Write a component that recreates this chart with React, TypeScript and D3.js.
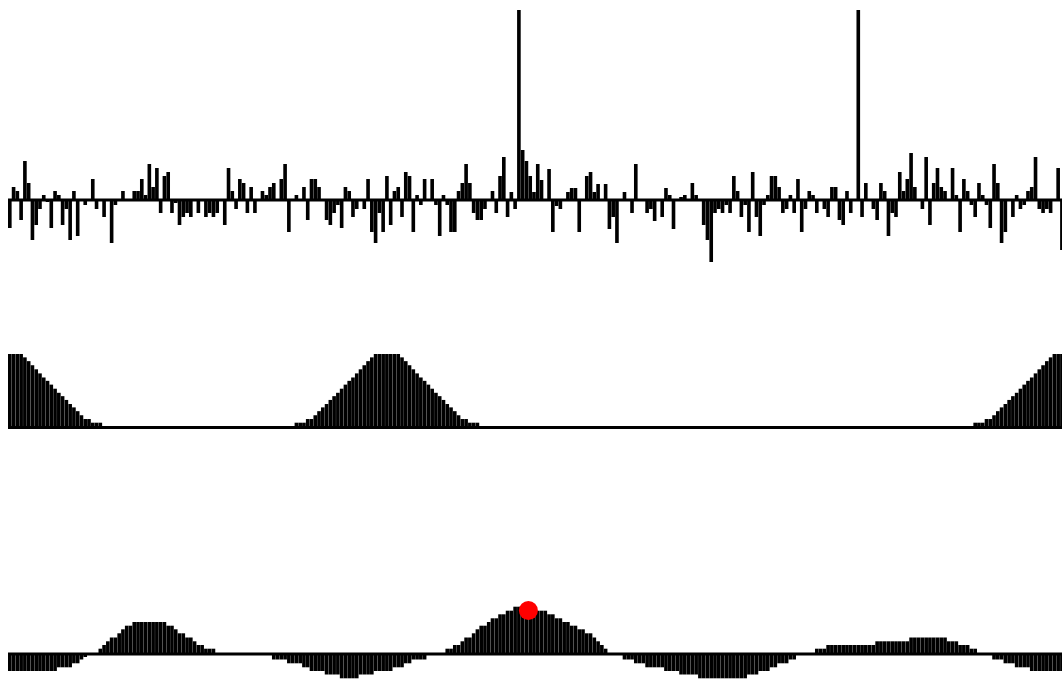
import React from "react";
import * as d3 from "d3";

const N = 280;

// top panel: noisy signal (values in panel units)
const signal = [
  -28, 13, 9, -20, 39, 17, -40, -25, -9, 5, -2, -28, 9, 5, -25, -9, -40, 9, -36, 0,
  -5, 0, 21, -9, 0, -17, 0, -43, -5, 0, 9, 0, 0, 9, 9, 21, 5, 36, 13, 32,
  -13, 24, 28, -13, -3, -25, -17, -13, -17, 0, -13, 0, -17, -13, -17, -13, 0, -25, 32, 9,
  -9, 21, 17, -13, 13, -13, 0, 9, 5, 13, 17, 0, 21, 36, -32, 0, 5, 0, 13, -20,
  21, 21, 13, 0, -20, -25, -13, -5, -28, 13, 9, -17, -9, 0, -9, 21, -32, -43, -13, -32,
  24, -25, 9, 13, -17, 28, 24, -32, 5, -5, 21, 0, 21, -5, -36, 5, -5, -32, -32, 9,
  17, 36, 17, -13, -20, -20, -9, 0, 9, -13, 24, 43, -17, 8, -9, 190, 50, 39, 24, 8,
  36, 20, 0, 31, -32, -6, -9, 0, 8, 12, 12, -32, 0, 24, 28, 8, 16, 0, 16, -29,
  -17, -43, 0, 8, 0, -13, 36, 0, 0, -13, -9, -21, 0, -17, 12, 5, -29, 0, 3, 5,
  0, 17, 5, 0, -25, -40, -62, -13, -9, -13, -5, -13, 24, 9, -17, -5, -32, 28, -17, -36,
  -5, 5, 24, 24, 13, -13, -9, 5, -13, 21, -32, -9, 9, 5, -13, 0, -9, -17, 13, 13,
  -20, -25, 9, -13, 0, 190, -17, 17, 0, -9, -20, 17, 9, -36, -13, -17, 28, 9, 21, 47,
  13, 0, -9, 43, -25, 17, 32, 13, 9, 0, 32, 5, -32, 21, 9, -5, -17, 17, 5, -5,
  -28, 36, 17, -43, -32, 0, -17, 5, -9, -5, 9, 13, 43, -9, -13, -9, -13, 0, 32, -50,
];

// middle panel: template of bumps
const template = [
  72, 72, 72, 72, 68.7, 65, 61, 57, 53, 49, 45.7, 42, 38, 34, 30.7, 27, 23, 19.7, 16, 12,
  8.3, 8.3, 4.7, 4.7, 4.7, 0, 0, 0, 0, 0, 0, 0, 0, 0, 0, 0, 0, 0, 0, 0,
  0, 0, 0, 0, 0, 0, 0, 0, 0, 0, 0, 0, 0, 0, 0, 0, 0, 0, 0, 0,
  0, 0, 0, 0, 0, 0, 0, 0, 0, 0, 0, 0, 0, 0, 0, 0, 4.7, 4.7, 4.7, 8.3,
  8.3, 12, 16, 19.7, 23, 27, 30.7, 34, 38, 42, 45.7, 49, 53, 57, 61, 65, 68.7, 72, 72, 72,
  72, 72, 72, 72, 68.7, 65, 61, 57, 53, 49, 45.7, 42, 38, 34, 30.7, 27, 23, 19.7, 16, 12,
  8.3, 8.3, 4.7, 4.7, 4.7, 0, 0, 0, 0, 0, 0, 0, 0, 0, 0, 0, 0, 0, 0, 0,
  0, 0, 0, 0, 0, 0, 0, 0, 0, 0, 0, 0, 0, 0, 0, 0, 0, 0, 0, 0,
  0, 0, 0, 0, 0, 0, 0, 0, 0, 0, 0, 0, 0, 0, 0, 0, 0, 0, 0, 0,
  0, 0, 0, 0, 0, 0, 0, 0, 0, 0, 0, 0, 0, 0, 0, 0, 0, 0, 0, 0,
  0, 0, 0, 0, 0, 0, 0, 0, 0, 0, 0, 0, 0, 0, 0, 0, 0, 0, 0, 0,
  0, 0, 0, 0, 0, 0, 0, 0, 0, 0, 0, 0, 0, 0, 0, 0, 0, 0, 0, 0,
  0, 0, 0, 0, 0, 0, 0, 0, 0, 0, 0, 0, 0, 0, 0, 0, 4.7, 4.7, 4.7, 8.3,
  8.3, 12, 16, 19.7, 23, 27, 30.7, 34, 38, 42, 45.7, 49, 53, 57, 61, 65, 68.7, 72, 72, 72,
];

// bottom panel: correlation result
const correlation = [
  -17, -17, -17, -17, -17, -17, -17, -17, -17, -17, -17, -17, -17, -13.3, -13.3, -13.3, -13.3, -9.3, -9.3, -5.5,
  -3, 0, 0, 0, 5.3, 9, 12.7, 16.5, 16.5, 20.7, 24.7, 28.3, 28.3, 32, 32, 32, 32, 32, 32, 32,
  32, 32, 28.3, 28.3, 24.7, 20.7, 20.7, 16.5, 16.5, 12.7, 9, 9, 5.3, 5.3, 5.3, 0, 0, 0, 0, 0,
  0, 0, 0, 0, 0, 0, 0, 0, 0, 0, -5.5, -5.5, -5.5, -5.5, -9.3, -9.3, -9.3, -9.3, -13.3, -13.3,
  -17, -17, -17, -17, -20.5, -20.5, -20.5, -20.5, -24.3, -24.3, -24.3, -24.3, -24.3, -20.5, -20.5, -20.5, -20.5, -17, -17, -17,
  -17, -17, -13.3, -13.3, -13.3, -9.3, -9.3, -5.5, -5.5, -5.5, -5.5, 0, 0, 0, 0, 0, 5.3, 5.3, 9, 9,
  12.7, 16.5, 16.5, 20.7, 24.7, 28.3, 28.3, 32, 35.7, 35.7, 39.7, 39.7, 43.3, 43.3, 47.3, 47.3, 47.3, 47.3, 47.3, 47.3,
  43.3, 43.3, 43.3, 39.7, 39.7, 35.7, 35.7, 32, 32, 28.3, 28.3, 24.7, 24.7, 20.7, 20.7, 16.5, 12.7, 9, 5.3, 0,
  0, 0, 0, -5.5, -5.5, -5.5, -9.3, -9.3, -9.3, -13.3, -13.3, -13.3, -13.3, -13.3, -17, -17, -17, -17, -20.5, -20.5,
  -20.5, -20.5, -20.5, -24.3, -24.3, -24.3, -24.3, -24.3, -24.3, -24.3, -24.3, -24.3, -24.3, -24.3, -24.3, -24.3, -20.5, -20.5, -20.5, -17,
  -17, -17, -13.3, -13.3, -9.3, -9.3, -9.3, -5.5, -5.5, 0, 0, 0, 0, 0, 5.3, 5.3, 5.3, 9, 9, 9,
  9, 9, 9, 9, 9, 9, 9, 9, 9, 9, 12.7, 12.7, 12.7, 12.7, 12.7, 12.7, 12.7, 12.7, 12.7, 16.5,
  16.5, 16.5, 16.5, 16.5, 16.5, 16.5, 16.5, 16.5, 16.5, 12.7, 12.7, 12.7, 9, 9, 9, 5.3, 5.3, 0, 0, 0,
  0, -5.5, -5.5, -5.5, -9.3, -9.3, -9.3, -13.3, -13.3, -13.3, -13.3, -17, -17, -17, -17, -17, -17, -17, -17, -17,
];

const peakIndex = 138;
const peakValue = 43.5;

export default function App() {
  const x = d3.scaleLinear().domain([0, N]).range([8, 8 + N * 3.771]);
  const yTop = d3.scaleLinear().domain([0, 190]).range([200, 10]);
  const yMid = d3.scaleLinear().domain([0, 72]).range([427.5, 354]);
  const yBot = d3.scaleLinear().domain([0, 47.3]).range([654, 606.7]);

  const bars = (data: number[], y: d3.ScaleLinear<number, number>, key: string) =>
    data.map((v, i) => {
      const y0 = y(0);
      const y1 = y(v);
      if (v === 0) return null;
      return (
        <rect
          key={key + i}
          x={x(i)}
          width={x(i + 1) - x(i) - 0.15}
          y={Math.min(y0, y1)}
          height={Math.abs(y1 - y0)}
          fill="#000"
        />
      );
    });

  return (
    <svg
      width={1062}
      height={680}
      style={{ position: "absolute", left: 0, top: 0, display: "block" }}
    >
      <rect x={0} y={0} width={1062} height={680} fill="#fff" />
      {bars(signal, yTop, "s")}
      <line x1={8} x2={1062} y1={yTop(0)} y2={yTop(0)} stroke="#000" strokeWidth={3} />
      {bars(template, yMid, "t")}
      <line x1={8} x2={1062} y1={yMid(0)} y2={yMid(0)} stroke="#000" strokeWidth={3} />
      {bars(correlation, yBot, "c")}
      <line x1={8} x2={1062} y1={yBot(0)} y2={yBot(0)} stroke="#000" strokeWidth={3} />
      <circle cx={x(peakIndex)} cy={yBot(peakValue)} r={9.5} fill="red" />
    </svg>
  );
}
